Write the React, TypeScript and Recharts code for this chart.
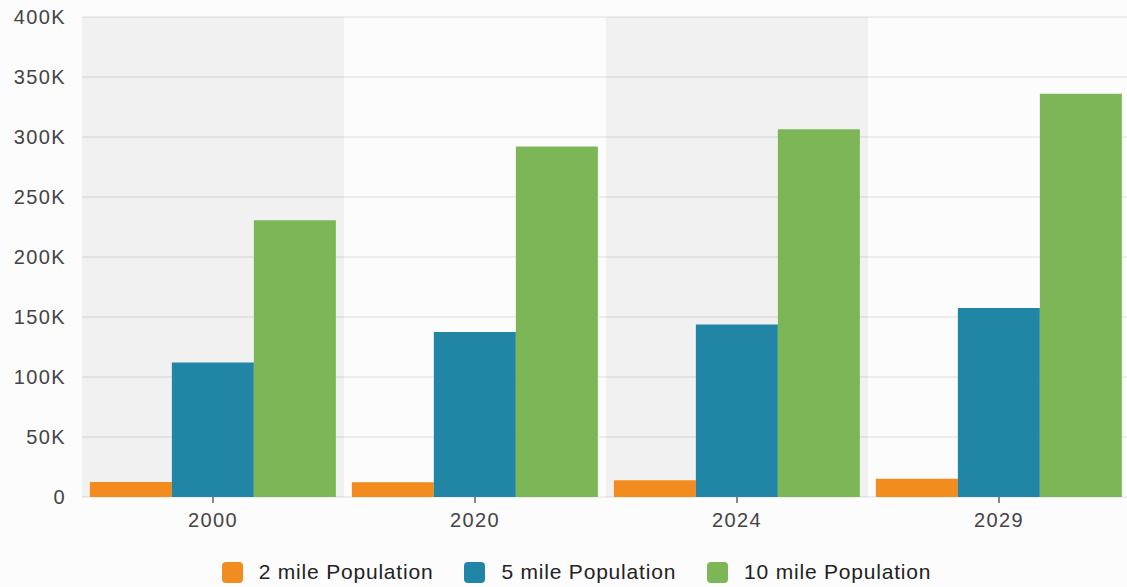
import { BarChart, Bar, XAxis, YAxis, CartesianGrid, Legend, ReferenceArea } from "recharts";

const years = ["2000", "2020", "2024", "2029"];
const twoMile = [12500, 12200, 13900, 15300];
const fiveMile = [112000, 137500, 143700, 157500];
const tenMile = [230600, 292000, 306400, 336000];
const yTicks = [0, 50000, 100000, 150000, 200000, 250000, 300000, 350000, 400000];
const shadedYears = ["2000", "2024"];

const SERIES = [
  { key: "two", name: "2 mile Population", color: "#F28C1F" },
  { key: "five", name: "5 mile Population", color: "#2185A6" },
  { key: "ten", name: "10 mile Population", color: "#7DB657" },
];

const data = years.map((year, i) => ({
  year,
  two: twoMile[i],
  five: fiveMile[i],
  ten: tenMile[i],
}));

const fmtK = (v: number) => (v === 0 ? "0" : `${v / 1000}K`);

const tickStyle = { fontSize: 20, fill: "#444", letterSpacing: 1.4 };

// legend drawn by hand to get the rounded swatches
const renderLegend = () => (
  <div
    style={{
      height: 45,
      paddingTop: 19,
      paddingLeft: 23,
      boxSizing: "border-box",
      display: "flex",
      justifyContent: "center",
      alignItems: "flex-start",
      gap: 31,
    }}
  >
    {SERIES.map((s) => (
      <div key={s.key} style={{ display: "flex", alignItems: "center", gap: 16, height: 22 }}>
        <span
          style={{ width: 21, height: 21, borderRadius: 4, background: s.color, display: "inline-block" }}
        />
        <span style={{ fontSize: 21, color: "#222", letterSpacing: 0.8, lineHeight: "22px" }}>{s.name}</span>
      </div>
    ))}
  </div>
);

export default function App() {
  return (
    <div
      style={{
        position: "absolute",
        left: 0,
        top: 0,
        width: 1127,
        height: 587,
        overflow: "hidden",
        background: "#fcfcfc",
        fontFamily: "'Liberation Sans', Arial, sans-serif",
      }}
    >
      <BarChart
        width={1131}
        height={587}
        data={data}
        margin={{ top: 17, right: 1, bottom: 0, left: 0 }}
        barCategoryGap="3%"
        barGap={0}
      >
        {shadedYears.map((y) => (
          <ReferenceArea
            key={y}
            x1={y}
            x2={y}
            y1={0}
            y2={400000}
            fill="#000"
            fillOpacity={0.045}
            stroke="none"
            ifOverflow="extendDomain"
          />
        ))}
        <CartesianGrid vertical={false} stroke="#dedede" />
        <XAxis
          dataKey="year"
          height={45}
          axisLine={false}
          tickLine={{ stroke: "#888", strokeWidth: 2 }}
          tickSize={6}
          tickMargin={10}
          tick={tickStyle}
        />
        <YAxis
          width={82}
          domain={[0, 400000]}
          ticks={yTicks}
          tickFormatter={fmtK}
          axisLine={false}
          tickLine={false}
          tickMargin={10}
          tick={tickStyle}
        />
        <Legend verticalAlign="bottom" content={renderLegend} />
        {SERIES.map((s) => (
          <Bar key={s.key} dataKey={s.key} name={s.name} fill={s.color} isAnimationActive={false} />
        ))}
      </BarChart>
    </div>
  );
}
